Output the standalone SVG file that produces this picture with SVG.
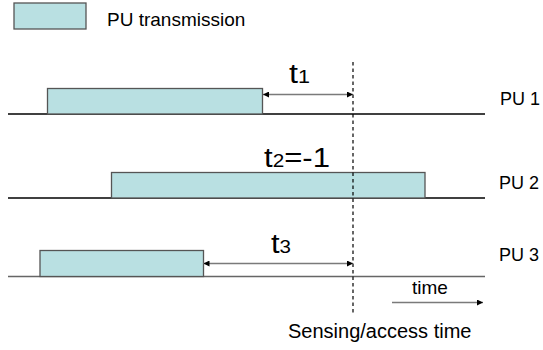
<svg xmlns="http://www.w3.org/2000/svg" width="543" height="350" viewBox="0 0 543 350">
<defs>
<style>
.tx{font-family:"Liberation Sans",Arial,sans-serif;font-size:19px;fill:#000}
.lb{font-family:"Liberation Sans",Arial,sans-serif;font-size:18px;fill:#000}
.big{font-family:"Liberation Sans",Arial,sans-serif;font-size:27px;fill:#000}
.sub{font-size:18px}
.box{fill:#b9e0e2;stroke:#555;stroke-width:1.3}
.axis{stroke:#000;stroke-width:1.3;fill:none}
.arr{stroke:#7a7a7a;stroke-width:1.4;fill:none}
.dash{stroke:#000;stroke-width:1.2;stroke-dasharray:3.5 3;fill:none}
</style>
<marker id="ah" viewBox="0 0 10 10" refX="10" refY="5" markerWidth="6" markerHeight="6" markerUnits="userSpaceOnUse" orient="auto-start-reverse">
<path d="M0,0 L10,5 L0,10 z" fill="#000"/>
</marker>
</defs>
<g id="legend">
<rect class="box" x="14" y="3" width="72" height="26"/>
<text class="tx" x="107" y="26">PU transmission</text>
</g>
<g id="pu1">
<line class="axis" x1="8" y1="114" x2="485" y2="114"/>
<rect class="box" x="47.5" y="88.5" width="215" height="25.5"/>
<text class="lb" x="500" y="105">PU 1</text>
</g>
<g id="pu2">
<line class="axis" x1="8" y1="198" x2="485" y2="198"/>
<rect class="box" x="111.5" y="172.5" width="313.5" height="25.5"/>
<text class="lb" x="499" y="189">PU 2</text>
</g>
<g id="pu3">
<line class="axis" x1="8" y1="276.5" x2="485" y2="276.5" style="stroke:#666"/>
<rect class="box" x="40" y="250.5" width="163.5" height="26"/>
<text class="lb" x="499" y="261">PU 3</text>
</g>
<g id="connectors">
<line class="dash" x1="353" y1="62" x2="353" y2="315"/>
<line class="arr" x1="263" y1="94.5" x2="353" y2="94.5" marker-start="url(#ah)" marker-end="url(#ah)"/>
<line class="arr" x1="203.5" y1="263.5" x2="353" y2="263.5" marker-start="url(#ah)" marker-end="url(#ah)"/>
<line class="arr" x1="392" y1="302.5" x2="483" y2="302.5" marker-end="url(#ah)"/>
</g>
<g id="labels">
<text class="big" x="289" y="83" textLength="21" lengthAdjust="spacingAndGlyphs">t<tspan class="sub">1</tspan></text>
<text class="big" x="264" y="167" textLength="66" lengthAdjust="spacingAndGlyphs">t<tspan class="sub">2</tspan>=-1</text>
<text class="big" x="271" y="253" textLength="20" lengthAdjust="spacingAndGlyphs">t<tspan class="sub">3</tspan></text>
<text class="tx" x="412" y="294">time</text>
<text class="tx" x="288" y="338" style="font-size:20px">Sensing/access time</text>
</g>
</svg>
